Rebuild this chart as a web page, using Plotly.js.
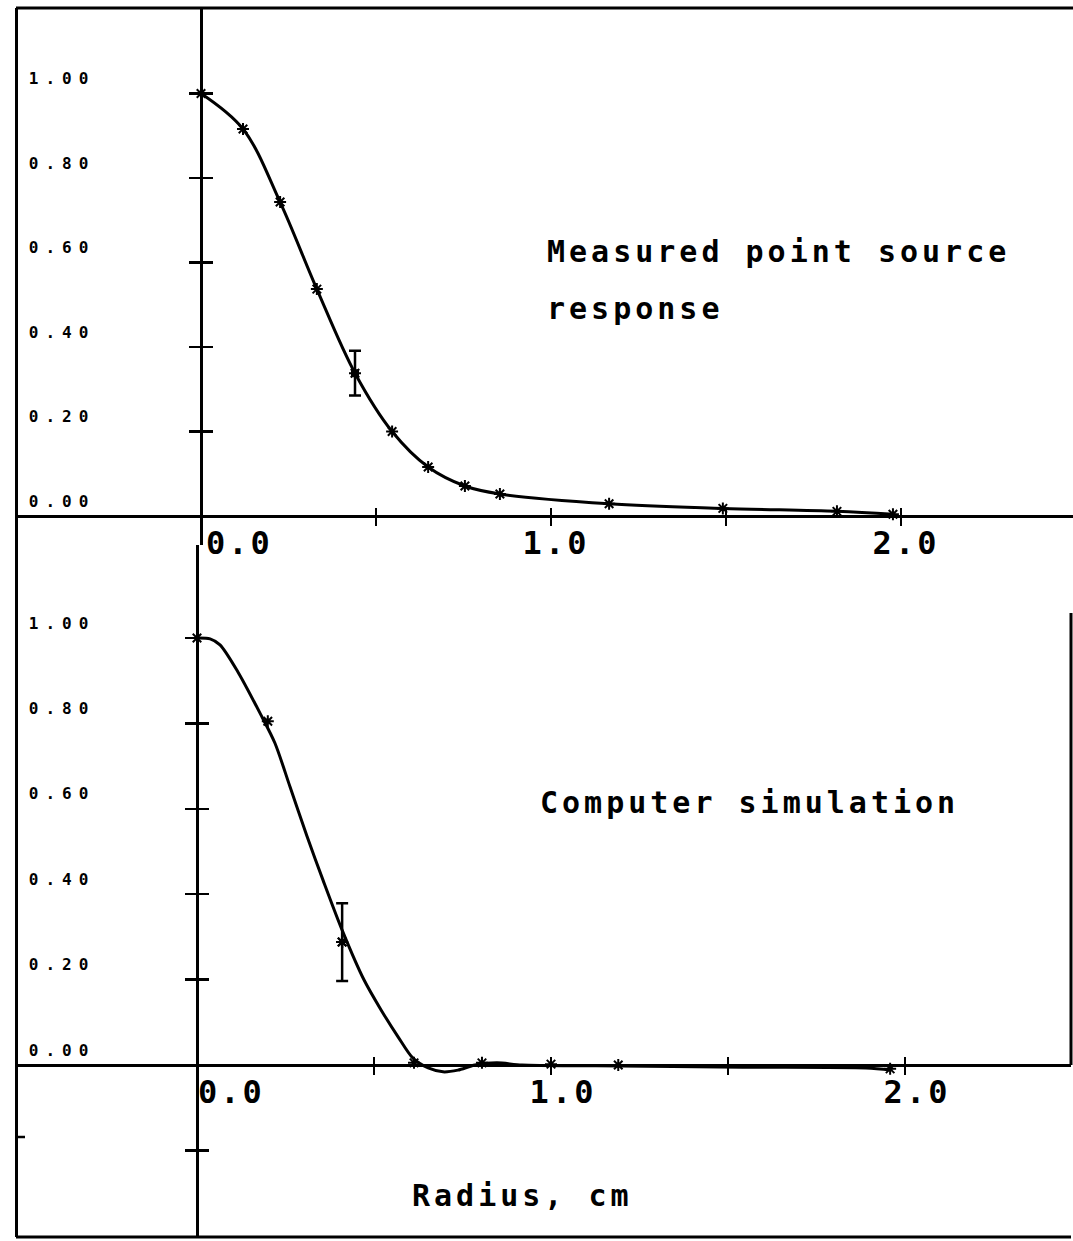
<!DOCTYPE html>
<html>
<head>
<meta charset="utf-8">
<script src="https://cdn.plot.ly/plotly-3.0.1.min.js"></script>
<style>
  html, body { margin: 0; padding: 0; background: #fff; }
  #chart { width: 1073px; height: 1241px; }
  .ytick text, .y2tick text { letter-spacing: 7px; }
  .xtick text, .x2tick text { letter-spacing: 3px; }
  .annotation-text { letter-spacing: 4px; }
</style>
</head>
<body>
<div id="chart"></div>
<script>
// ---------- data: measured point source response (top panel) ----------
const measRadius   = [0.0, 0.12, 0.226, 0.331, 0.44, 0.546, 0.649, 0.754, 0.854, 1.166, 1.491, 1.817, 1.977];
const measResponse = [1.0, 0.916, 0.743, 0.537, 0.338, 0.200, 0.116, 0.071, 0.052, 0.029, 0.018, 0.011, 0.004];
const measErrRadius   = [0.44];
const measErrResponse = [0.338];
const measErrSize     = [0.053];

// ---------- data: computer simulation (bottom panel) ----------
const simCurveRadius   = [0.0, 0.037, 0.065, 0.116, 0.178, 0.22, 0.263, 0.311, 0.356, 0.41, 0.472, 0.52, 0.568, 0.61, 0.653, 0.695, 0.737, 0.785, 0.847, 0.918, 1.127, 1.542, 1.89, 1.96];
const simCurveResponse = [1.0, 0.998, 0.984, 0.92, 0.824, 0.754, 0.651, 0.535, 0.433, 0.316, 0.199, 0.129, 0.066, 0.016, -0.007, -0.016, -0.012, 0.0, 0.005, 0.0, -0.002, -0.005, -0.007, -0.012];
const simPointRadius   = [0.0, 0.2, 0.41, 0.613, 0.805, 1.0, 1.19, 1.958];
const simPointResponse = [1.0, 0.805, 0.288, 0.005, 0.005, 0.002, 0.0, -0.009];
const simErrRadius   = [0.41];
const simErrResponse = [0.288];
const simErrSize     = [0.091];

// ---------- ticks and labels ----------
const yLabelVals = [0, 0.2, 0.4, 0.6, 0.8, 1.0];
const yLabelText = ['0.00', '0.20', '0.40', '0.60', '0.80', '1.00'];
const yTickMarksTop = [0.2, 0.4, 0.6, 0.8, 1.0];
const yTickMarksBottom = [-0.2, 0.2, 0.4, 0.6, 0.8, 1.0];
const xTickVals = [0, 0.5, 1, 1.5, 2];
const xTickTextTop = ['\u00a0\u00a0\u00a00.0', '', '1.0', '', '2.0'];
const xTickTextBottom = ['\u00a0\u00a00.0', '', '1.0', '', '2.0'];
const textMeasured = ['Measured point source', 'response'];
const textSimulation = 'Computer simulation';
const xTitle = 'Radius, cm';

// ---------- geometry helpers ----------
const W = 1073, H = 1241;
const px = v => v / W;
const py = v => (H - v) / H;

const mono = 'DejaVu Sans Mono, monospace';
const tickFontBig = { family: mono, size: 32, color: '#000', weight: 'bold' };
const yLabFont = { family: mono, size: 16, color: '#000', weight: 'bold' };
const annFont = { family: mono, size: 30, color: '#000', weight: 'bold' };
const titleFont = { family: mono, size: 30, color: '#000', weight: 'bold' };

const topYRange = [-(545 - 516) / 422.5, (516 - 8) / 422.5];
const botYRange = [(1065 - 1237) / 427, (1065 - 545) / 427];
const topXRange = [(16 - 201) / 350, (1073 - 201) / 350];
const botXRange = [(16 - 197) / 354, (1071 - 197) / 354];

const markerStyle = { symbol: 'asterisk-open', size: 10, color: '#000', line: { color: '#000', width: 2 } };

const traces = [
  { type: 'scatter', mode: 'lines+markers', x: measRadius, y: measResponse, xaxis: 'x', yaxis: 'y',
    line: { color: '#000', width: 3, shape: 'spline', smoothing: 1 }, marker: markerStyle, hoverinfo: 'x+y' },
  { type: 'scatter', mode: 'markers', x: measErrRadius, y: measErrResponse, xaxis: 'x', yaxis: 'y',
    marker: { symbol: 'square', size: 8, color: '#000' },
    error_y: { type: 'data', array: measErrSize, visible: true, color: '#000', thickness: 2.5, width: 6 } },
  { type: 'scatter', mode: 'lines', x: simCurveRadius, y: simCurveResponse, xaxis: 'x2', yaxis: 'y2',
    line: { color: '#000', width: 3, shape: 'spline', smoothing: 0.8 } },
  { type: 'scatter', mode: 'markers', x: simPointRadius, y: simPointResponse, xaxis: 'x2', yaxis: 'y2',
    marker: markerStyle },
  { type: 'scatter', mode: 'markers', x: simErrRadius, y: simErrResponse, xaxis: 'x2', yaxis: 'y2',
    marker: markerStyle,
    error_y: { type: 'data', array: simErrSize, visible: true, color: '#000', thickness: 2.5, width: 6 } },
  // carriers so the overlaying tick axes are drawn
  { type: 'scatter', mode: 'markers', x: [], y: [], xaxis: 'x', yaxis: 'y3', showlegend: false, hoverinfo: 'skip' },
  { type: 'scatter', mode: 'markers', x: [], y: [], xaxis: 'x2', yaxis: 'y4', showlegend: false, hoverinfo: 'skip' }
];

const commonX = { showgrid: false, showline: false, zeroline: true, zerolinecolor: '#000', zerolinewidth: 3,
  ticks: 'outside', ticklen: 18, tickwidth: 2.5, tickcolor: '#000', tickvals: xTickVals,
  tickfont: tickFontBig, ticklabelstandoff: -10, anchor: 'free', side: 'bottom', fixedrange: true };
const commonYLabel = { showgrid: false, showline: true, linecolor: '#000', linewidth: 3,
  zeroline: true, zerolinecolor: '#000', zerolinewidth: 3, ticks: '', tickvals: yLabelVals, ticktext: yLabelText,
  ticklabelposition: 'inside', ticklabelshift: -15, ticklabelstandoff: 11, tickfont: yLabFont,
  anchor: 'free', position: px(16), side: 'left', fixedrange: true };
const commonYTicks = { showgrid: false, showline: false, zeroline: false, ticks: 'outside', ticklen: 24,
  tickwidth: 2.5, tickcolor: '#000', showticklabels: false, anchor: 'free', side: 'left', fixedrange: true };

const layout = {
  width: W, height: H, margin: { l: 0, r: 0, t: 0, b: 0 },
  paper_bgcolor: '#fff', plot_bgcolor: 'rgba(0,0,0,0)', showlegend: false,
  xaxis: Object.assign({}, commonX, { domain: [px(16), 1], range: topXRange, position: py(507),
    ticktext: xTickTextTop, ticklabelshift: 5 }),
  yaxis: Object.assign({}, commonYLabel, { domain: [py(545), py(8)], range: topYRange }),
  yaxis3: Object.assign({}, commonYTicks, { overlaying: 'y', range: topYRange, position: px(213),
    tickvals: yTickMarksTop }),
  xaxis2: Object.assign({}, commonX, { domain: [px(16), px(1071)], range: botXRange, position: py(1056),
    ticktext: xTickTextBottom, ticklabelshift: 12 }),
  yaxis2: Object.assign({}, commonYLabel, { domain: [py(1237), py(545)], range: botYRange }),
  yaxis4: Object.assign({}, commonYTicks, { overlaying: 'y2', range: botYRange, position: px(209),
    tickvals: yTickMarksBottom }),
  shapes: [
    { type: 'line', xref: 'paper', yref: 'paper', x0: px(16), x1: 1, y0: py(8), y1: py(8), line: { color: '#000', width: 3 } },
    { type: 'line', xref: 'paper', yref: 'paper', x0: px(16), x1: px(1071), y0: py(1237), y1: py(1237), line: { color: '#000', width: 3 } },
    { type: 'line', xref: 'paper', yref: 'paper', x0: px(1071), x1: px(1071), y0: py(613), y1: py(1065), line: { color: '#000', width: 3 } },
    { type: 'line', xref: 'paper', yref: 'paper', x0: px(16), x1: px(25), y0: py(1137), y1: py(1137), line: { color: '#000', width: 2.5 } }
  ],
  annotations: [
    { xref: 'paper', yref: 'paper', x: px(545), y: py(251), text: textMeasured[0], xanchor: 'left', yanchor: 'middle', showarrow: false, font: annFont },
    { xref: 'paper', yref: 'paper', x: px(545), y: py(308), text: textMeasured[1], xanchor: 'left', yanchor: 'middle', showarrow: false, font: annFont },
    { xref: 'paper', yref: 'paper', x: px(538), y: py(803), text: textSimulation, xanchor: 'left', yanchor: 'middle', showarrow: false, font: annFont },
    { xref: 'paper', yref: 'paper', x: px(410), y: py(1195), text: xTitle, xanchor: 'left', yanchor: 'middle', showarrow: false, font: titleFont }
  ]
};

Plotly.newPlot('chart', traces, layout, { staticPlot: true, displayModeBar: false });
</script>
</body>
</html>
